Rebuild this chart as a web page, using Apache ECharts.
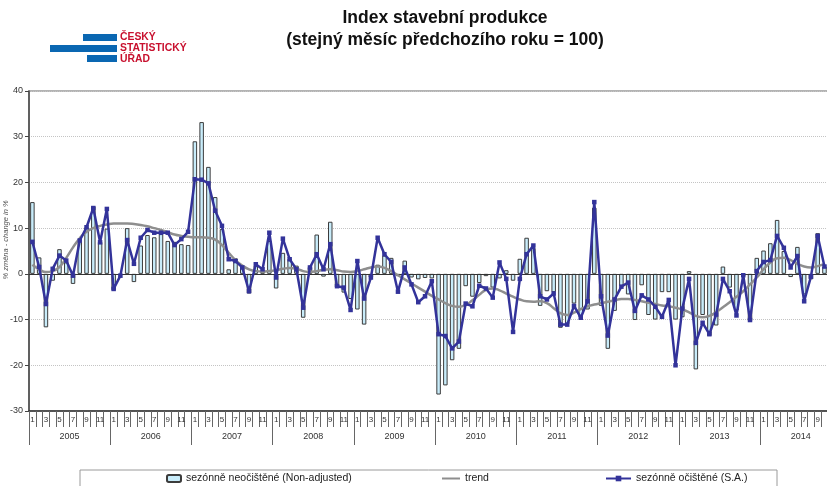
<!DOCTYPE html>
<html><head><meta charset="utf-8">
<script src="https://cdn.jsdelivr.net/npm/echarts@6/dist/echarts.min.js"></script>
<style>
html,body{margin:0;padding:0;overflow:hidden;background:#fff;width:827px;height:486px}
#c{width:860px;height:486px}
</style>
</head><body><div id="c"></div>
<script>
// ---- data ----
const years = ['2005','2006','2007','2008','2009','2010','2011','2012','2013','2014'];
const monthLabels = ['1','2','3','4','5','6','7','8','9','10','11','12'];
const yTicks = [-30, -20, -10, 0, 10, 20, 30, 40];

const nonAdjusted = [
  15.7, 3.6, -11.7, -1.5, 5.4, 2.5, -2.2, 7.6, 10.2, 14.8, 7.0, 9.9,
  -3.6, -0.3, 10.0, -1.8, 6.2, 8.5, 8.0, 8.7, 7.2, 7.0, 6.5, 6.3,
  29.0, 33.2, 23.4, 16.8, 9.8, 1.0, 3.4, 1.5, -4.3, 1.8, 0.5, 7.2,
  -3.2, 4.6, 3.3, 1.8, -9.6, 1.5, 8.6, -0.6, 11.4, -3.0, -4.1, -5.5,
  -7.8, -11.1, -0.8, 2.0, 4.0, 3.5, -0.5, 2.9, -0.8, -1.2, -0.9, -1.0,
  -26.4, -24.4, -18.9, -16.4, -2.7, -5.0, -2.0, -0.5, -3.0, -1.0, 0.8, -1.5,
  3.3, 7.9, 5.7, -7.0, -3.8, -4.0, -11.8, -11.0, -6.5, -9.5, -7.8, 14.5,
  -7.0, -16.4, -8.1, -2.7, -4.5, -10.1, -2.5, -9.0, -10.0, -4.0, -4.0, -10.0,
  -9.5, 0.6, -20.9, -9.0, -13.6, -11.3, 1.6, -3.0, -8.0, -0.5, -10.3, 3.5,
  5.1, 6.7, 11.8, 5.0, -0.7, 5.9, -4.5, -1.2, 8.9, 1.6
];
const trend = [
  2.0, 1.0, 0.4, 0.6, 1.5, 3.5, 5.8, 7.8, 9.2, 10.0, 10.5, 10.8,
  11.0, 11.0, 11.0, 10.9, 10.7, 10.4, 10.0, 9.6, 9.1, 8.6, 8.3, 8.1,
  8.0, 8.0, 7.9, 7.5, 6.3, 4.6, 3.0, 1.8, 1.0, 0.6, 0.5, 0.6,
  0.8, 1.1, 1.3, 1.1, 0.6, 0.4, 0.6, 0.9, 1.0, 0.8, 0.5, 0.4,
  0.6, 1.0, 1.4, 1.6, 1.3, 0.6, -0.3, -1.2, -2.1, -3.0, -3.9, -4.8,
  -5.6, -6.4, -7.0, -7.2, -6.8, -5.8, -4.6, -3.5, -3.2, -3.6, -4.3, -5.0,
  -5.6, -6.0, -6.1, -6.0, -6.4, -7.5, -8.6, -9.0, -8.5, -7.7, -7.1, -6.7,
  -6.4, -6.1, -5.8, -5.5, -5.5, -5.7, -6.0, -6.3, -6.6, -6.9, -7.1, -7.4,
  -7.8, -8.4, -9.2, -9.5, -9.2, -8.4, -7.3, -6.2, -5.0, -3.8, -2.3, -0.8,
  1.0, 2.5, 3.4, 3.5, 3.0, 2.2, 1.6, 1.4, 1.7, 2.2
];
const seasonallyAdjusted = [
  7.0, 1.5, -6.6, 1.1, 4.0, 2.9, -0.4, 7.3, 10.2, 14.4, 6.9, 14.2,
  -3.3, -0.4, 7.4, 2.2, 7.9, 9.6, 9.0, 9.0, 9.0, 6.3, 7.6, 9.2,
  20.7, 20.6, 19.8, 13.8, 10.5, 3.2, 2.8, 1.4, -3.8, 2.1, 1.0, 9.0,
  -0.8, 7.7, 3.2, 1.0, -7.4, 1.4, 4.3, 1.0, 6.5, -2.7, -3.0, -7.9,
  2.8, -5.4, -0.8, 7.9, 4.3, 2.6, -3.9, 1.4, -2.3, -6.2, -4.9, -1.6,
  -13.2, -13.6, -16.3, -14.8, -6.5, -7.1, -2.6, -3.2, -5.2, 2.5, -1.1, -12.7,
  -1.1, 4.3, 6.2, -4.9, -5.6, -4.3, -11.1, -11.1, -7.0, -9.6, -6.0, 15.7,
  -4.9, -13.5, -5.6, -2.8, -1.9, -8.1, -4.7, -5.6, -7.2, -9.4, -5.7, -20.0,
  -7.6, -1.1, -15.1, -10.7, -13.2, -8.9, -1.1, -3.8, -9.1, -0.3, -10.1, 0.6,
  2.6, 3.0, 8.3, 5.7, 1.4, 3.9, -6.0, -0.6, 8.3, 1.6
];
const seriesNames = ['sezónně neočištěné (Non-adjusted)', 'trend', 'sezónně očištěné (S.A.)'];
const titleLines = ['Index stavební produkce', '(stejný měsíc předchozího roku = 100)'];
const yAxisName = '% změna - change in %';
const logoLines = ['ČESKÝ', 'STATISTICKÝ', 'ÚŘAD'];

// categories built from years x months
const categories = [];
years.forEach(y => monthLabels.forEach(m => categories.push(y + '-' + m)));

const FONT = '"Liberation Sans", Arial, sans-serif';
const chart = echarts.init(document.getElementById('c'), null, {renderer: 'canvas'});

const legendText = {fontSize: 10.5, color: '#222'};
const option = {
  animation: false,
  textStyle: {fontFamily: FONT},
  grid: {left: 29, top: 91, width: 812.4, height: 320, containLabel: false, outerBoundsMode: 'none',
         show: true, borderColor: '#9a9a9a', borderWidth: 1.5, backgroundColor: 'transparent'},
  xAxis: [
    {
      type: 'category', data: categories, position: 'bottom', boundaryGap: true,
      axisLine: {show: true, onZero: false, lineStyle: {color: '#333', width: 1.5}},
      axisTick: {show: true, interval: 0, length: 16, lineStyle: {color: '#666', width: 1}},
      axisLabel: {interval: (i) => i % 2 === 0, formatter: (v) => v.split('-')[1], fontSize: 8, color: '#333', margin: 5},
      splitLine: {show: false}
    },
    {
      type: 'category', data: categories, position: 'bottom', boundaryGap: true,
      axisLine: {show: false, onZero: false},
      axisTick: {show: true, interval: (i) => i % 12 === 0, length: 34, lineStyle: {color: '#666', width: 1}},
      axisLabel: {interval: (i) => i % 12 === 6, formatter: (v) => v.split('-')[0], fontSize: 9, color: '#333', margin: 21, padding: [0, 7, 0, 0]},
      splitLine: {show: false}
    }
  ],
  yAxis: {
    type: 'value', min: yTicks[0], max: yTicks[yTicks.length - 1], interval: 10,
    axisLine: {show: true, lineStyle: {color: '#444', width: 1.5}},
    axisTick: {show: true, length: 4, lineStyle: {color: '#444'}},
    axisLabel: {fontSize: 9, color: '#333', margin: 6},
    splitLine: {show: true, lineStyle: {type: 'dotted', color: '#c4c4c4', width: 1}}
  },
  legend: [
    {data: [seriesNames[0]], left: 166, top: 473, padding: 0, itemWidth: 14, itemHeight: 7, textStyle: legendText, selectedMode: false},
    {data: [seriesNames[1]], left: 441, top: 473, padding: 0, itemWidth: 18, itemHeight: 7, textStyle: legendText, selectedMode: false, itemStyle: {opacity: 0}},
    {data: [seriesNames[2]], left: 605, top: 473, padding: 0, itemWidth: 25, itemHeight: 7, textStyle: legendText, selectedMode: false}
  ],
  series: [
    {
      name: seriesNames[0], type: 'bar', data: nonAdjusted, barWidth: 4.5,
      itemStyle: {color: '#c8ecfa', borderColor: '#3c3c3c', borderWidth: 1},
      z: 2,
      markLine: {silent: true, symbol: ['none', 'none'], label: {show: false}, lineStyle: {color: '#333', width: 1, type: 'solid'}, data: [{yAxis: 0}], z: 3}
    },
    {
      name: seriesNames[1], type: 'line', data: trend, smooth: true, showSymbol: false, symbol: 'none',
      lineStyle: {color: '#8e8e8e', width: 2.5}, itemStyle: {color: '#8e8e8e'}, z: 4
    },
    {
      name: seriesNames[2], type: 'line', data: seasonallyAdjusted, symbol: 'rect', symbolSize: 4.5,
      lineStyle: {color: '#33339a', width: 2.5}, itemStyle: {color: '#33339a'}, z: 5
    }
  ],
  graphic: [
    {type: 'text', x: 445, y: 9, style: {text: titleLines[0], font: 'bold 17.5px ' + FONT, fill: '#111', align: 'center'}},
    {type: 'text', x: 445, y: 31, style: {text: titleLines[1], font: 'bold 17.5px ' + FONT, fill: '#111', align: 'center'}},
    {type: 'text', x: 6, y: 240, rotation: Math.PI / 2, style: {text: yAxisName, font: 'italic 7.5px ' + FONT, fill: '#555', align: 'center', verticalAlign: 'middle'}},
    {type: 'rect', shape: {x: 83, y: 34, width: 34, height: 7}, style: {fill: '#0a67b2'}},
    {type: 'rect', shape: {x: 50, y: 45, width: 67, height: 7}, style: {fill: '#0a67b2'}},
    {type: 'rect', shape: {x: 87, y: 55, width: 30, height: 7}, style: {fill: '#0a67b2'}},
    {type: 'text', x: 120, y: 32, style: {text: logoLines[0], font: 'bold 10.4px ' + FONT, fill: '#c8102e'}},
    {type: 'text', x: 120, y: 43, style: {text: logoLines[1], font: 'bold 10.4px ' + FONT, fill: '#c8102e'}},
    {type: 'text', x: 120, y: 54, style: {text: logoLines[2], font: 'bold 10.4px ' + FONT, fill: '#c8102e'}},
    {type: 'rect', shape: {x: 80, y: 470, width: 697, height: 30}, style: {fill: 'none', stroke: '#9a9a9a', lineWidth: 1}}
  ]
};
chart.setOption(option);
</script>
</body></html>
